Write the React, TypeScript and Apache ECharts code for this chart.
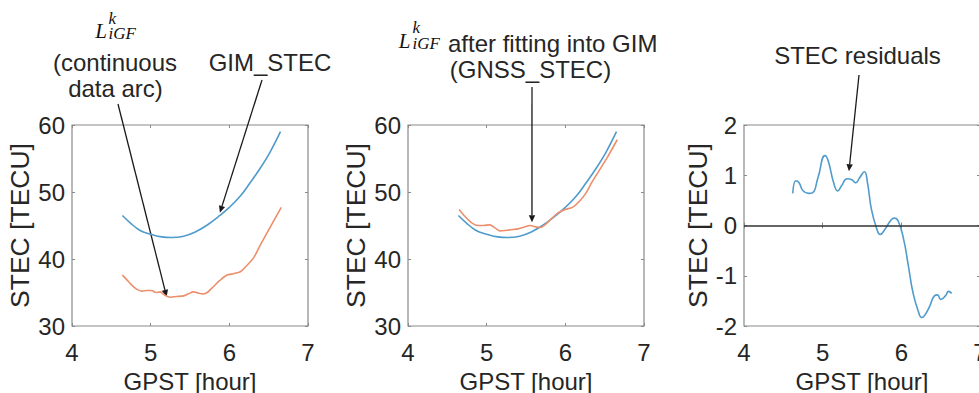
import React, { useEffect, useRef } from "react";
import * as echarts from "echarts";

// ---- Data ----
const xTicks = [4, 5, 6, 7];

// GIM_STEC (same curve in panels 1 and 2)
const hoursGim = [4.64, 4.74, 4.86, 5.0, 5.14, 5.27, 5.42, 5.56, 5.71, 5.88, 6.0, 6.14, 6.26, 6.39, 6.52, 6.65];
const gimStec = [46.5, 45.4, 44.3, 43.7, 43.3, 43.2, 43.4, 44.0, 45.0, 46.5, 47.7, 49.4, 51.3, 53.5, 56.0, 59.0];

// L_iGF^k (continuous data arc)
const hoursLigf = [4.64, 4.69, 4.76, 4.82, 4.89, 4.95, 5.01, 5.07, 5.12, 5.18, 5.25, 5.33, 5.42, 5.48, 5.54, 5.61, 5.67, 5.72, 5.8, 5.88, 5.97, 6.05, 6.14, 6.22, 6.31, 6.39, 6.47, 6.56, 6.66];
const ligf = [37.6, 37.0, 36.1, 35.5, 35.2, 35.3, 35.3, 35.0, 35.1, 34.6, 34.3, 34.4, 34.5, 34.8, 35.1, 34.9, 34.8, 35.0, 35.9, 36.8, 37.6, 37.8, 38.1, 39.0, 40.2, 42.0, 43.7, 45.6, 47.7];

// GNSS_STEC (L_iGF after fitting into GIM)
const hoursGnss = [4.65, 4.72, 4.81, 4.89, 4.96, 5.04, 5.11, 5.17, 5.26, 5.34, 5.4, 5.49, 5.55, 5.62, 5.68, 5.74, 5.83, 5.91, 6.0, 6.09, 6.17, 6.26, 6.34, 6.43, 6.53, 6.66];
const gnssStec = [47.4, 46.4, 45.4, 45.0, 45.0, 45.1, 44.6, 44.2, 44.3, 44.4, 44.5, 44.8, 45.0, 44.8, 44.7, 45.1, 46.1, 46.9, 47.4, 47.7, 48.5, 49.8, 51.5, 53.2, 55.1, 57.8];

// STEC residuals
const hoursRes = [4.62, 4.66, 4.7, 4.75, 4.82, 4.87, 4.94, 5.03, 5.07, 5.14, 5.19, 5.24, 5.31, 5.37, 5.42, 5.47, 5.53, 5.57, 5.62, 5.69, 5.73, 5.79, 5.86, 5.91, 5.96, 6.03, 6.09, 6.15, 6.21, 6.26, 6.3, 6.36, 6.42, 6.46, 6.5, 6.56, 6.6, 6.64];
const residuals = [0.64, 0.89, 0.85, 0.69, 0.64, 0.65, 0.95, 1.39, 1.29, 0.85, 0.69, 0.79, 0.93, 0.91, 0.85, 0.95, 1.07, 0.85, 0.32, -0.08, -0.18, -0.08, 0.09, 0.15, 0.09, -0.28, -0.81, -1.35, -1.68, -1.83, -1.78, -1.61, -1.4, -1.38, -1.47, -1.4, -1.31, -1.35];

// Arrow targets (data coordinates) per panel
const arrowTargets = [
  { grid: 0, x: 5.203, y: 34.37 },
  { grid: 0, x: 5.88, y: 46.9 },
  { grid: 1, x: 5.576, y: 45.5 },
  { grid: 2, x: 5.334, y: 1.08 },
];

const FONT = "'Liberation Sans', Arial, sans-serif";
const SERIF = "'Liberation Serif', 'DejaVu Serif', serif";
const BLUE = "#4f9bcc";
const ORANGE = "#ec8f6c";
const AXIS_GRAY = "#8a8a8a";
const TEXT = "#262626";

const pair = (xs: number[], ys: number[]) => xs.map((x, i) => [x, ys[i]]);

export default function App() {
  const ref = useRef<HTMLDivElement>(null);

  useEffect(() => {
    if (!ref.current) return;
    const chart = echarts.init(ref.current, null, { renderer: "svg" });

    const lefts = [72, 408, 744];
    const grids = lefts.map((left) => ({
      left,
      top: 125,
      width: 236,
      height: 201,
      show: true,
      borderColor: AXIS_GRAY,
      borderWidth: 1.2,
      backgroundColor: "transparent",
      outerBoundsMode: "none",
      containLabel: false,
    }));

    const yCfg = [
      { min: 30, max: 60, interval: 10, gap: 39 },
      { min: 30, max: 60, interval: 10, gap: 39 },
      { min: -2, max: 2, interval: 1, gap: 33 },
    ];

    const xAxes: any[] = [];
    const yAxes: any[] = [];
    [0, 1, 2].forEach((g) => {
      xAxes.push({
        type: "value",
        gridIndex: g,
        min: xTicks[0],
        max: xTicks[xTicks.length - 1],
        interval: 1,
        position: "bottom",
        axisLine: { show: false },
        axisTick: { show: true, inside: true, length: 3, lineStyle: { color: AXIS_GRAY } },
        splitLine: { show: false },
        axisLabel: { show: true, fontSize: 24, color: TEXT, fontFamily: FONT, margin: 14, showMinLabel: true, showMaxLabel: true, hideOverlap: false },
        name: "GPST [hour]",
        nameLocation: "middle",
        nameGap: 43,
        nameTextStyle: { fontSize: 24, color: TEXT, fontFamily: FONT },
      });
      const c = yCfg[g];
      yAxes.push({
        type: "value",
        gridIndex: g,
        min: c.min,
        max: c.max,
        interval: c.interval,
        position: "left",
        axisLine: { show: false },
        axisTick: { show: true, inside: true, length: 3, lineStyle: { color: AXIS_GRAY } },
        splitLine: { show: false },
        axisLabel: { show: true, fontSize: 24, color: TEXT, fontFamily: FONT, margin: 7, showMinLabel: true, showMaxLabel: true },
        name: "STEC [TECU]",
        nameLocation: "middle",
        nameGap: c.gap,
        nameTextStyle: { fontSize: 26.5, color: TEXT, fontFamily: FONT },
      });
    });
    [0, 1, 2].forEach((g) => {
      xAxes.push({
        type: "value",
        gridIndex: g,
        min: xTicks[0],
        max: xTicks[xTicks.length - 1],
        interval: 1,
        position: "top",
        axisLine: { show: false },
        axisTick: { show: true, inside: true, length: 3, lineStyle: { color: AXIS_GRAY } },
        splitLine: { show: false },
        axisLabel: { show: false },
      });
      const c = yCfg[g];
      yAxes.push({
        type: "value",
        gridIndex: g,
        min: c.min,
        max: c.max,
        interval: c.interval,
        position: "right",
        axisLine: { show: false },
        axisTick: { show: true, inside: true, length: 3, lineStyle: { color: AXIS_GRAY } },
        splitLine: { show: false },
        axisLabel: { show: false },
      });
    });

    const lineSeries = (name: string, g: number, data: number[][], color: string, smooth: number) => ({
      name,
      type: "line",
      xAxisIndex: g,
      yAxisIndex: g,
      data,
      showSymbol: false,
      smooth,
      lineStyle: { color, width: 1.6 },
      itemStyle: { color },
      silent: true,
    });

    const series: any[] = [
      lineSeries("GIM_STEC", 0, pair(hoursGim, gimStec), BLUE, 0.4),
      lineSeries("L_iGF", 0, pair(hoursLigf, ligf), ORANGE, 0.3),
      lineSeries("GIM_STEC ", 1, pair(hoursGim, gimStec), BLUE, 0.4),
      lineSeries("GNSS_STEC", 1, pair(hoursGnss, gnssStec), ORANGE, 0.3),
      {
        ...lineSeries("STEC residuals", 2, pair(hoursRes, residuals), BLUE, 0.5),
        markLine: {
          silent: true,
          symbol: "none",
          label: { show: false },
          lineStyle: { color: "#333333", width: 1.5, type: "solid" },
          data: [{ yAxis: 0 }],
        },
      },
    ];

    chart.setOption({
      animation: false,
      backgroundColor: "#ffffff",
      grid: grids,
      xAxis: xAxes,
      yAxis: yAxes,
      series,
    });

    const txt = (text: string, x: number, y: number, opts: any = {}) => ({
      type: "text",
      x,
      y,
      silent: true,
      style: {
        text,
        fontSize: 24,
        fontFamily: FONT,
        fill: TEXT,
        align: "center",
        verticalAlign: "middle",
        ...opts,
      },
    });

    // italic L with superscript k stacked over subscript iGF
    const mathL = (lx: number, ly: number, sx: number, sy: number, lh: number) => [
      txt("L", lx, ly, { fontFamily: SERIF, fontStyle: "italic", fontSize: 21, fill: "#111", lineHeight: 16 }),
      txt("k\niGF", sx, sy, { fontFamily: SERIF, fontStyle: "italic", fontSize: 17, fill: "#111", align: "left", lineHeight: lh }),
    ];

    const starts = [
      [118, 104],
      [262, 80],
      [532, 87],
      [859, 75],
    ];
    const arrows: any[] = [];
    arrowTargets.forEach((t, i) => {
      const tip = chart.convertToPixel({ gridIndex: t.grid } as any, [t.x, t.y]) as number[];
      const [sx, sy] = starts[i];
      const dx = tip[0] - sx;
      const dy = tip[1] - sy;
      const len = Math.sqrt(dx * dx + dy * dy);
      const ux = dx / len;
      const uy = dy / len;
      const headLen = 7;
      const headW = 3.2;
      const bx = tip[0] - ux * headLen;
      const by = tip[1] - uy * headLen;
      arrows.push({
        type: "line",
        silent: true,
        shape: { x1: sx, y1: sy, x2: bx, y2: by },
        style: { stroke: "#1a1a1a", lineWidth: 1.3 },
      });
      arrows.push({
        type: "polygon",
        silent: true,
        shape: {
          points: [
            [tip[0], tip[1]],
            [bx - uy * headW, by + ux * headW],
            [bx + uy * headW, by - ux * headW],
          ],
        },
        style: { fill: "#1a1a1a" },
      });
    });

    chart.setOption({
      graphic: [
        ...mathL(101, 31, 108.5, 26, 15),
        txt("(continuous", 115, 62),
        txt("data arc)", 115.5, 88),
        txt("GIM_STEC", 270, 62),
        ...mathL(404.5, 40.5, 412.5, 35.5, 16),
        txt("after fitting into GIM", 448, 43, { align: "left" }),
        txt("(GNSS_STEC)", 530.5, 69),
        txt("STEC residuals", 857.5, 55),
        ...arrows,
      ],
    });

    return () => chart.dispose();
  }, []);

  return (
    <div
      ref={ref}
      style={{ position: "fixed", left: 0, top: 0, width: 979, height: 393, background: "#fff" }}
    />
  );
}
